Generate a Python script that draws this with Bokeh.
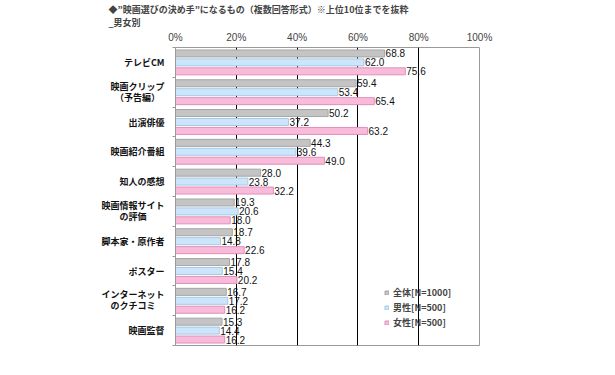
from bokeh.plotting import figure
from bokeh.models import Range1d, FixedTicker, ColumnDataSource, Legend, LegendItem, Title
from bokeh.core.properties import value
from bokeh.embed import file_html
from bokeh.resources import INLINE

categories = ["テレビCM", "映画クリップ\n（予告編）", "出演俳優", "映画紹介番組", "知人の感想",
              "映画情報サイト\nの評価", "脚本家・原作者", "ポスター", "インターネット\nのクチコミ", "映画監督"]
total = [68.8, 59.4, 50.2, 44.3, 28.0, 19.3, 18.7, 17.8, 16.7, 15.3]
male = [62.0, 53.4, 37.2, 39.6, 23.8, 20.6, 14.8, 15.4, 17.2, 14.4]
female = [75.6, 65.4, 63.2, 49.0, 32.2, 18.0, 22.6, 20.2, 16.2, 16.2]
series_names = ["全体[N=1000]", "男性[N=500]", "女性[N=500]"]
x_ticks = [0, 20, 40, 60, 80, 100]
title_text = "◆\u201d映画選びの決め手\u201dになるもの（複数回答形式）※上位10位までを抜粋\n_男女別"

JP = "Noto Sans CJK JP"
fills = ["#c4c4c4", "#cce5fa", "#f8bbda"]
edges = ["#a5a5a5", "#a6c9e4", "#e28fbb"]
offsets = [-0.3, 0.0, 0.3]

p = figure(width=615, height=375, output_backend="svg", toolbar_location=None,
           x_range=Range1d(0, 100), y_range=Range1d(10, 0),
           x_axis_location="above", min_border_left=175, min_border_right=136,
           min_border_top=5, min_border_bottom=30)
p.background_fill_color = "white"
p.border_fill_color = "white"
p.outline_line_color = "#9a9a9a"

t1 = Title(text=title_text, align="left", offset=-67, text_font=JP, text_font_size="9px",
           text_font_style="bold", standoff=0, text_line_height=1.0)
p.add_layout(t1, "above")

# x axis (top)
xa = p.xaxis[0]
xa.ticker = FixedTicker(ticks=x_ticks)
xa.major_label_overrides = {t: f"{t}%" for t in x_ticks}
xa.axis_line_color = None
xa.major_tick_line_color = None
xa.minor_tick_line_color = None
xa.major_tick_out = 0
xa.major_tick_in = 0
xa.minor_tick_out = 0
xa.minor_tick_in = 0
xa.major_label_text_font = "Liberation Sans"
xa.major_label_text_font_size = "10px"
xa.major_label_standoff = 5

# y axis (left): category labels, one tick per text line
centers = [i + 0.5 for i in range(len(categories))]
line_off = 0.185
pads = {"（予告編）": "\u2002", "の評価": "\u3000\u3000", "のクチコミ": "\u3000"}
label_ticks = []
label_map = {}
for c, lab in zip(centers, categories):
    lines = lab.split("\n")
    if len(lines) == 1:
        pos = [c]
    else:
        pos = [c - line_off - 0.02, c + line_off - 0.02]
    for yy, ln in zip(pos, lines):
        label_ticks.append(yy)
        label_map[yy] = ln + pads.get(ln, "")

ya = p.yaxis[0]
ya.ticker = FixedTicker(ticks=label_ticks, minor_ticks=list(range(len(categories) + 1)))
ya.major_label_overrides = label_map
ya.axis_line_color = "#9a9a9a"
ya.major_tick_line_color = None
ya.major_tick_out = 0
ya.major_tick_in = 0
ya.minor_tick_line_color = "#9a9a9a"
ya.minor_tick_out = 3
ya.minor_tick_in = 0
ya.major_label_text_font = JP
ya.major_label_text_font_size = "9px"
ya.major_label_text_font_style = "bold"
ya.major_label_text_color = "#111111"
ya.major_label_standoff = 8

p.xgrid.ticker = FixedTicker(ticks=[20, 40, 60, 80])
p.xgrid.grid_line_color = "black"
p.xgrid.grid_line_width = 1
p.ygrid.grid_line_color = None

items = []
for k, vals in enumerate([total, male, female]):
    src = ColumnDataSource(dict(y=[c + offsets[k] for c in centers], v=vals,
                                lx=[v + 0.3 for v in vals], lab=[f"{v:.1f}" for v in vals]))
    r = p.hbar(y="y", left=0, right="v", height=0.235, source=src,
               fill_color=fills[k], line_color=edges[k], line_width=1)
    p.text(x="lx", y="y", text="lab", source=src, text_font=value("Liberation Sans"),
           text_font_size="10px", text_baseline="middle", text_align="left", text_color="#111111")
    items.append(LegendItem(label=series_names[k], renderers=[r]))

legend = Legend(items=items, location=(209, 16), orientation="vertical",
                glyph_width=5, glyph_height=5, label_text_font=JP, label_text_font_size="9px",
                label_text_font_style="bold", spacing=1, label_height=14, padding=0, margin=0,
                background_fill_alpha=0, border_line_color=None, label_standoff=4)
p.add_layout(legend, "center")

open("out.html", "w").write(file_html(p, INLINE))
